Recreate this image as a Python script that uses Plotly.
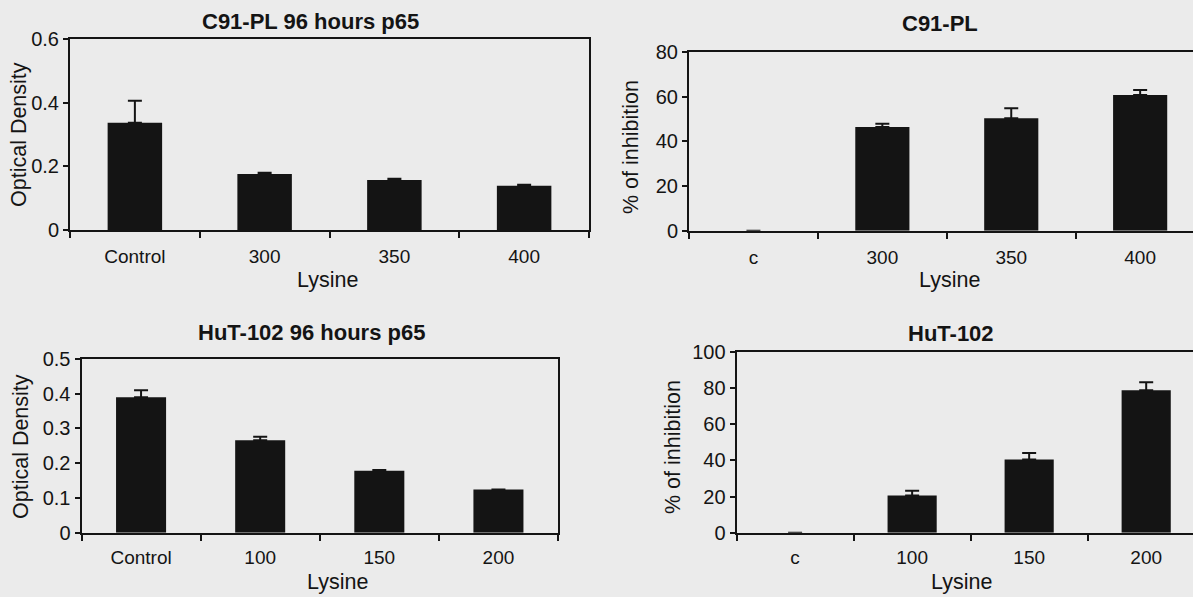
import plotly.graph_objects as go

W, H = 1193, 597

# ---- data ----
c91_od_cats = ["Control", "300", "350", "400"]
c91_od_vals = [0.337, 0.176, 0.157, 0.139]
c91_od_err = [0.069, 0.004, 0.004, 0.003]

c91_inh_cats = ["c", "300", "350", "400"]
c91_inh_vals = [0.0, 46.4, 50.3, 60.7]
c91_inh_err = [0.0, 1.5, 4.5, 2.3]

hut_od_cats = ["Control", "100", "150", "200"]
hut_od_vals = [0.389, 0.266, 0.178, 0.124]
hut_od_err = [0.020, 0.010, 0.002, 0.0]

hut_inh_cats = ["c", "100", "150", "200"]
hut_inh_vals = [0.0, 20.6, 40.5, 78.7]
hut_inh_err = [0.0, 2.6, 3.5, 4.4]

titles = ["C91-PL 96 hours p65", "C91-PL", "HuT-102 96 hours p65", "HuT-102"]
ytitles = ["Optical Density", "% of inhibition", "Optical Density", "% of inhibition"]
xtitle = "Lysine"

BG = "#ebebeb"
INK = "#141414"
FONT = "Liberation Sans, Arial, sans-serif"

def px(x):
    return x / W

def py(y):
    return 1 - y / H

panels = [
    dict(l=70, r=589, t=39, b=230, xend=3.5, yr=[0, 0.6], dt=0.2, mirror_y=True, so=8),
    dict(l=689, r=1193, t=52, b=230.7, xend=3.41, yr=[0, 80], dt=20, mirror_y=False, so=8),
    dict(l=81.5, r=558, t=358.7, b=532.7, xend=3.5, yr=[0, 0.5], dt=0.1, mirror_y=True, so=6),
    dict(l=736.6, r=1193, t=351.7, b=532.7, xend=3.40, yr=[0, 100], dt=20, mirror_y=False, so=6),
]
data = [
    (c91_od_cats, c91_od_vals, c91_od_err),
    (c91_inh_cats, c91_inh_vals, c91_inh_err),
    (hut_od_cats, hut_od_vals, hut_od_err),
    (hut_inh_cats, hut_inh_vals, hut_inh_err),
]

fig = go.Figure()
layout = dict(
    template="none",
    width=W, height=H, autosize=False,
    margin=dict(l=0, r=0, t=0, b=0, pad=0, autoexpand=False),
    paper_bgcolor=BG, plot_bgcolor=BG,
    showlegend=False,
    font=dict(family=FONT, color=INK),
)

for i, (p, (cats, vals, errs)) in enumerate(zip(panels, data), start=1):
    xa = "x" if i == 1 else f"x{i}"
    ya = "y" if i == 1 else f"y{i}"
    fig.add_trace(go.Bar(
        x=cats, y=vals, xaxis=xa, yaxis=ya,
        width=0.42,
        marker=dict(color=INK, line=dict(width=0)),
        error_y=dict(type="data", array=errs, arrayminus=[0] * len(errs),
                     symmetric=False, color=INK, thickness=2, width=7),
    ))
    xkey = "xaxis" if i == 1 else f"xaxis{i}"
    ykey = "yaxis" if i == 1 else f"yaxis{i}"
    layout[xkey] = dict(
        domain=[px(p["l"]), px(p["r"])],
        anchor=ya, type="category", automargin=False,
        range=[-0.5, p["xend"]],
        showline=True, linecolor=INK, linewidth=2, mirror=True,
        ticks="outside", tickson="boundaries", ticklen=6, tickwidth=2, tickcolor=INK,
        tickfont=dict(size=19, family=FONT, color=INK),
        ticklabelstandoff=p["so"],
        showgrid=False, zeroline=False,
    )
    layout[ykey] = dict(
        domain=[py(p["b"]), py(p["t"])],
        anchor=xa, range=p["yr"], dtick=p["dt"], automargin=False,
        showline=True, linecolor=INK, linewidth=2, mirror=p["mirror_y"],
        ticks="outside", ticklen=5, tickwidth=2, tickcolor=INK,
        tickfont=dict(size=20, family=FONT, color=INK),
        showgrid=False, zeroline=False,
    )

annotations = []
title_pos = [(310, 22), (940, 23), (311, 332), (951, 333)]
for t, (x, y) in zip(titles, title_pos):
    annotations.append(dict(text=f"<b>{t}</b>", x=px(x), y=py(y), xref="paper", yref="paper",
                            showarrow=False, xanchor="center", yanchor="middle",
                            font=dict(size=22, family=FONT, color=INK)))
ytitle_pos = [(19, 135), (631, 147), (21, 447), (673, 447)]
for t, (x, y) in zip(ytitles, ytitle_pos):
    annotations.append(dict(text=t, x=px(x), y=py(y), xref="paper", yref="paper",
                            showarrow=False, xanchor="center", yanchor="middle", textangle=-90,
                            font=dict(size=21.5, family=FONT, color=INK)))
xtitle_pos = [(327, 280), (949, 280), (337, 582), (961, 582)]
for (x, y) in xtitle_pos:
    annotations.append(dict(text=xtitle, x=px(x), y=py(y), xref="paper", yref="paper",
                            showarrow=False, xanchor="center", yanchor="middle",
                            font=dict(size=21.5, family=FONT, color=INK)))
layout["annotations"] = annotations

fig.update_layout(**layout)
fig.write_html(
    "out.html",
    config={"displayModeBar": False, "responsive": False},
    default_width=f"{W}px", default_height=f"{H}px",
    post_script="document.body.style.margin='0';document.body.style.overflow='hidden';"
                "document.body.style.background='" + BG + "';",
)
